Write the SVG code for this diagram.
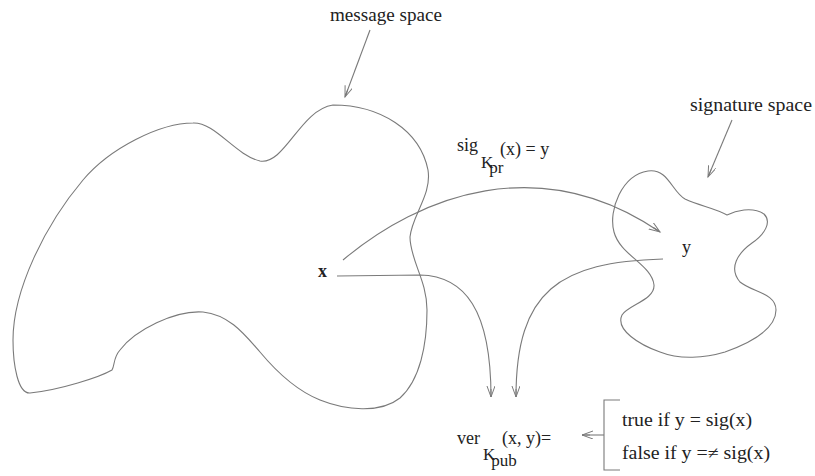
<svg xmlns="http://www.w3.org/2000/svg" width="815" height="476" viewBox="0 0 815 476">
<style>
.shape{fill:none;stroke:#7a7a7a;stroke-width:1.1}
.conn{fill:none;stroke:#7a7a7a;stroke-width:1.1}
text{font-family:"Liberation Serif","DejaVu Serif",serif;fill:#222;font-size:18px}
.sub{font-size:17px}
</style>
<defs>
<marker id="ah" markerUnits="userSpaceOnUse" markerWidth="14" markerHeight="10" refX="11" refY="4" orient="auto">
<path d="M0,0 L11,4 L0,8 M3,4 L11,4" fill="none" stroke="#7a7a7a" stroke-width="1"/>
</marker>
</defs>
<rect width="815" height="476" fill="#fff"/>
<g font-family="Liberation Serif, DejaVu Serif, serif">
<g id="message-space">
<path class="shape" d="M333,105 C380,105 420,130 428,170 C432,195 412,215 410,237 C410,260 427,280 427,310 C427,345 420,380 400,398 C380,414 345,410 320,400 C295,390 275,370 260,352 C245,335 230,315 203,312 C175,310 135,330 120,350 C113,358 115,365 112,370 C100,377 60,390 30,393 C18,394 13,365 13,340 C13,290 45,225 83,180 C110,148 160,123 193,123 C215,122 235,155 260,161 C285,165 300,110 333,105 Z"/>
<text x="330" y="21" textLength="112" lengthAdjust="spacingAndGlyphs">message space</text>
<text x="318" y="277" font-weight="bold" font-size="17">x</text>
</g>
<g id="signature-space">
<path class="shape" d="M648,171 C668,168 672,192 685,199 C700,206 715,208 727,215 C735,211 752,206 764,214 C772,222 765,234 752,243 C738,253 728,268 740,282 C752,292 776,293 776,310 C776,330 750,343 725,352 C705,358 680,360 660,352 C640,345 615,330 622,315 C628,305 655,300 654,285 C652,265 620,255 614,232 C608,210 622,175 648,171 Z"/>
<text x="690" y="111" textLength="122" lengthAdjust="spacingAndGlyphs">signature space</text>
<text x="682" y="253">y</text>
</g>
<g id="sig-label">
<text x="457" y="151">sig</text>
<text x="500" y="155">(x) = y</text>
<text x="481" y="168" class="sub">K<tspan dx="-4" dy="5">pr</tspan></text>
</g>
<g id="ver-label">
<text x="457" y="444">ver</text>
<text x="502" y="444">(x, y)=</text>
<text x="483" y="460" class="sub">K<tspan dx="-4" dy="6">pub</tspan></text>
</g>
<g id="result">
<text x="622" y="426" textLength="130" lengthAdjust="spacingAndGlyphs">true if y = sig(x)</text>
<text x="622" y="459" textLength="148" lengthAdjust="spacingAndGlyphs">false if y =≠ sig(x)</text>
<polyline class="conn" points="620,400 604,400 604,470 620,470"/>
</g>
</g>
<g id="connectors">
<line class="conn" x1="370" y1="30" x2="345" y2="97" marker-end="url(#ah)"/>
<line class="conn" x1="732" y1="120" x2="708" y2="177" marker-end="url(#ah)"/>
<path class="conn" d="M343,260 C420,195 540,150 660,232" marker-end="url(#ah)"/>
<path class="conn" d="M337,276 L420,275 C465,276 491,310 491,397" marker-end="url(#ah)"/>
<path class="conn" d="M663,259 C560,262 516,290 516,397" marker-end="url(#ah)"/>
<line class="conn" x1="604" y1="435" x2="582" y2="435" marker-end="url(#ah)"/>
</g>
</svg>
